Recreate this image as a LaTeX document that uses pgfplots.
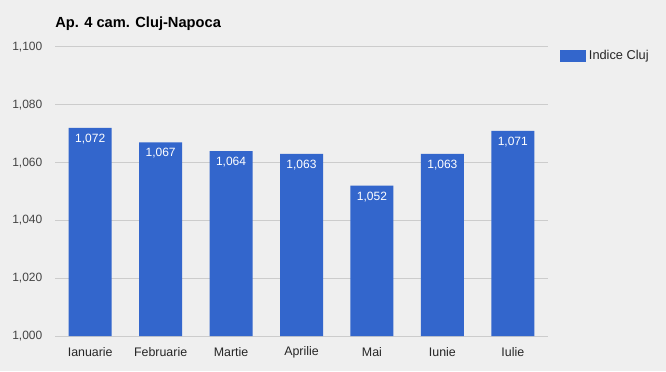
\documentclass[border=0pt]{standalone}
\usepackage{pgfplots}
\pgfplotsset{compat=1.18}
\usepackage{fontspec}
\setmainfont{Liberation Sans}
\definecolor{bg}{HTML}{EFEFEF}
\definecolor{barc}{HTML}{3366CC}
\definecolor{gridc}{HTML}{CCCCCC}
\definecolor{tickc}{HTML}{444444}
\definecolor{titlec}{HTML}{000000}
\begin{document}
\begin{tikzpicture}
\fill[bg] (0pt,0pt) rectangle (499.5pt,278.25pt);
\node[anchor=west, inner sep=0pt, font=\bfseries\fontsize{11}{13}\selectfont, text=titlec] at (41.25pt,260.25pt) {Ap. 4 cam. Cluj-Napoca};
\begin{axis}[
  at={(41.25pt,26.25pt)}, anchor=south west,
  scale only axis, width=369.75pt, height=216.75pt,
  xmin=-0.5, xmax=6.5, ymin=1000, ymax=1100,
  ytick={1000,1020,1040,1060,1080,1100},
  xtick={0,1,2,3,4,5,6},
  xticklabels={Ianuarie,Februarie,Martie,Aprilie,Mai,Iunie,Iulie},
  axis line style={draw=none},
  major tick length=0pt,
  ymajorgrids, grid style={gridc, line width=0.75pt},
  /pgf/number format/assume math mode=true,
  /pgf/number format/.cd, fixed, 1000 sep={,}, /pgfplots/.cd,
  yticklabel style={font=\fontsize{9}{11}\selectfont, text=tickc, anchor=east, xshift=-6pt},
  xticklabel style={font=\fontsize{9.3}{11}\selectfont, text=black!85, anchor=center, yshift=-12pt},
  ybar, bar width=32.25pt,
  nodes near coords,
  every node near coord/.append style={anchor=north, text=white, font=\fontsize{9}{11}\selectfont, yshift=-1pt},
  legend style={draw=none, fill=none, at={(1,1)}, anchor=north west, xshift=6pt, yshift=2pt, font=\fontsize{9.6}{11}\selectfont, text=black!85},
  legend image code/.code={\fill[barc] (0pt,-4.5pt) rectangle (19.5pt,4.5pt);},
  clip=false,
]
\addplot[fill=barc, draw=none] coordinates {(0,1072) (1,1067) (2,1064) (3,1063) (4,1052) (5,1063) (6,1071)};
\addlegendentry{Indice Cluj}
\end{axis}
\end{tikzpicture}
\end{document}
